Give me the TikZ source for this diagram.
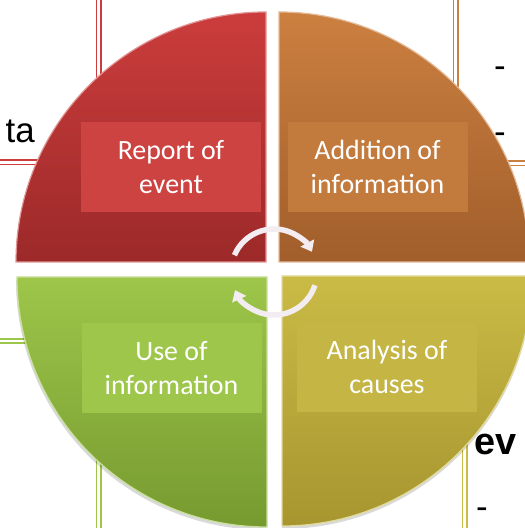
\documentclass[tikz,border=0pt]{standalone}
\usepackage{fontspec}
\setmainfont{Carlito}
\newfontfamily\docfont{Liberation Sans}
\usetikzlibrary{arrows.meta}

% quadrant colours (top / bottom of the shading)
\definecolor{redtop}{HTML}{CB3D3C}
\definecolor{redbot}{HTML}{9C2929}
\definecolor{orangetop}{HTML}{CC8040}
\definecolor{orangebot}{HTML}{A15E2B}
\definecolor{greentop}{HTML}{9DC64A}
\definecolor{greenbot}{HTML}{779A30}
\definecolor{olivetop}{HTML}{CABB46}
\definecolor{olivebot}{HTML}{A7952F}
\definecolor{arrowwhite}{HTML}{F3ECF0}

\tikzset{
  labelbox/.style={minimum width=180bp, minimum height=90bp, inner sep=0pt,
    text=white, align=center, font=\fontsize{28}{34}\selectfont},
  tableline/.style={line width=1.7bp, double=white, double distance=2.6bp},
  cyclearrow/.style={line width=5.5bp, draw=arrowwhite,
    -{Triangle[width=15bp,length=10bp]}},
}

\begin{document}
\begin{tikzpicture}[x=1bp, y=1bp]
    \useasboundingbox (0,0) rectangle (525,528);
    \clip (0,0) rectangle (525,528);
    \def\radius{250bp} % radius of the circle

    % table behind the circle
    \draw[tableline, draw=redtop] (98.5,528) -- (98.5,360);
    \draw[tableline, draw=redtop] (0,365.5) -- (60,365.5);
    \draw[tableline, draw=orangetop] (455.5,528) -- (455.5,400);
    \draw[tableline, draw=orangetop] (470,364.5) -- (525,364.5);
    \draw[tableline, draw=greentop] (0,187) -- (60,187);
    \draw[tableline, draw=greentop] (98.5,70) -- (98.5,0);
    \draw[tableline, draw=olivetop] (464.5,90) -- (464.5,0);

    % text of the table
    \node[inner sep=0pt, anchor=base east, font=\docfont\fontsize{35}{40}\selectfont] (ta) at (35,385) {ta};
    \node[inner sep=0pt, anchor=base west, font=\docfont\fontsize{35}{40}\selectfont] (dashA) at (494,450) {-};
    \node[inner sep=0pt, anchor=base west, font=\docfont\fontsize{35}{40}\selectfont] (dashB) at (494,384) {-};
    \node[inner sep=0pt, anchor=base west, font=\docfont\bfseries\fontsize{38}{44}\selectfont] (ev) at (474,73) {ev};
    \node[inner sep=0pt, anchor=base west, font=\docfont\fontsize{35}{40}\selectfont] (dashC) at (476,9) {-};

    % soft shadow under the lower half
    \fill[black, opacity=0.15] (266,248) -- ++(180:\radius) arc[start angle=180, end angle=270, radius=\radius] -- cycle;
    \fill[black, opacity=0.15] (282,249) -- ++(270:\radius) arc[start angle=270, end angle=360, radius=\radius] -- cycle;

    % the four quadrants
    \foreach \cx/\cy/\sa/\col in {266/266/180/red, 279/266/90/orange, 282/252/0/olive, 267/251/-90/green} {
      \path[top color=\col top, bottom color=\col bot, draw=\col top!55!white, line width=1.2bp]
        (\cx,\cy) -- ++(\sa:\radius) arc[start angle=\sa, end angle=\sa-90, radius=\radius] -- cycle;
    }

    % text boxes
    \node[labelbox, fill=redtop!97!white] (report) at (171,361) {Report of\\event};
    \node[labelbox, fill=orangetop!95!black] (addition) at (377.5,361) {Addition of\\information};
    \node[labelbox, fill=greentop] (use) at (171.5,160) {Use of\\information};
    \node[labelbox, fill=olivetop!97!black] (analysis) at (387,161) {Analysis of\\causes};

    % cycle arrows in the middle
    \coordinate (hub) at (274,256);
    \draw[cyclearrow] (hub) ++(157:43bp) arc[start angle=157, end angle=28, radius=43bp];
    \draw[cyclearrow] (hub) ++(-18:43bp) arc[start angle=-18, end angle=-155, radius=43bp];
  \end{tikzpicture}
\end{document}
